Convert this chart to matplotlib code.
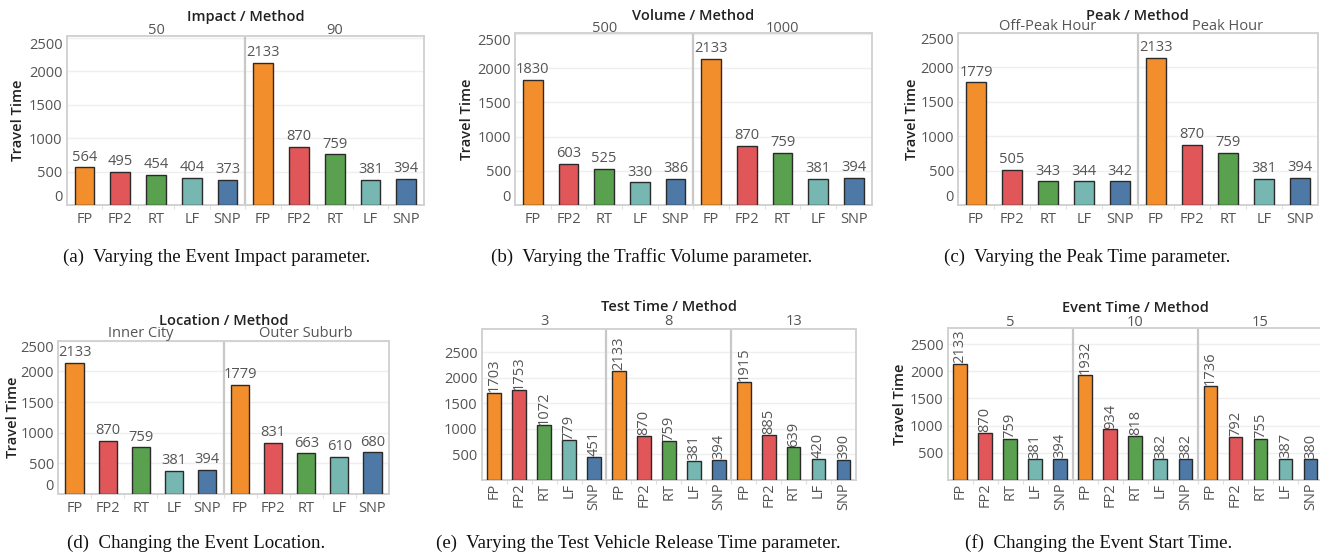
import matplotlib
matplotlib.use("Agg")
import matplotlib.pyplot as plt

W, H = 1320, 555
methods = ["FP", "FP2", "RT", "LF", "SNP"]
colors = ["#F28E2B", "#E15759", "#59A14F", "#76B7B2", "#4E79A7"]

a_facets = ["50", "90"]
a_vals = [[564, 495, 454, 404, 373], [2133, 870, 759, 381, 394]]
b_facets = ["500", "1000"]
b_vals = [[1830, 603, 525, 330, 386], [2133, 870, 759, 381, 394]]
c_facets = ["Off-Peak Hour", "Peak Hour"]
c_vals = [[1779, 505, 343, 344, 342], [2133, 870, 759, 381, 394]]
d_facets = ["Inner City", "Outer Suburb"]
d_vals = [[2133, 870, 759, 381, 394], [1779, 831, 663, 610, 680]]
e_facets = ["3", "8", "13"]
e_vals = [[1703, 1753, 1072, 779, 451], [2133, 870, 759, 381, 394], [1915, 885, 639, 420, 390]]
f_facets = ["5", "10", "15"]
f_vals = [[2133, 870, 759, 381, 394], [1932, 934, 818, 382, 382], [1736, 792, 755, 387, 380]]

titles = ["Impact / Method", "Volume / Method", "Peak / Method",
          "Location / Method", "Test Time / Method", "Event Time / Method"]
captions = ["(a)  Varying the Event Impact parameter.",
            "(b)  Varying the Traffic Volume parameter.",
            "(c)  Varying the Peak Time parameter.",
            "(d)  Changing the Event Location.",
            "(e)  Varying the Test Vehicle Release Time parameter.",
            "(f)  Changing the Event Start Time."]
y_ticks_full = [0, 500, 1000, 1500, 2000, 2500]
y_ticks_rot = [500, 1000, 1500, 2000, 2500]

SANS = "Open Sans"
SERIF = "Liberation Serif"
FS = 10.5
GRAY = "#555555"

fig = plt.figure(figsize=(W / 100, H / 100), dpi=100)


def px(x0, y0, x1, y1):
    return [x0 / W, 1 - y1 / H, (x1 - x0) / W, (y1 - y0) / H]


def chart(box, ymax, facets, vals, title, title_y, facet_y, ylabel_x, rotated,
          caption, cap_x, cap_y, zero_label):
    x0, y0, x1, y1 = box
    ax = fig.add_axes(px(x0, y0, x1, y1))
    n = len(facets)
    xs, hs, cs, labs = [], [], [], []
    for i, row in enumerate(vals):
        for j, v in enumerate(row):
            xs.append(i * 5 + j)
            hs.append(v)
            cs.append(colors[j])
            labs.append(methods[j])
    ax.bar(xs, hs, width=0.55, color=cs, edgecolor="#2a2a2a", linewidth=1.0, zorder=3)
    for x, v in zip(xs, hs):
        ax.annotate(str(v), (x, v), xytext=(0, 0.5 if rotated else 2),
                    textcoords="offset points",
                    ha="center", va="bottom", rotation=90 if rotated else 0,
                    fontsize=FS, color=GRAY, family=SANS)
    ax.set_xlim(-0.5, n * 5 - 0.5)
    ax.set_ylim(0, ymax)
    ticks = y_ticks_full if zero_label else y_ticks_rot
    ax.set_yticks(ticks)
    ax.set_yticklabels([str(t) for t in ticks], fontsize=FS, color=GRAY, family=SANS)
    if zero_label:
        lbls = ax.get_yticklabels()
        lbls[0].set_va("bottom")
        if ymax - 2500 < 60:
            lbls[-1].set_va("top")
    ax.tick_params(axis="y", length=0, pad=3)
    ax.set_xticks(xs)
    ax.set_xticklabels(labs, fontsize=FS, color=GRAY, family=SANS,
                       rotation=90 if rotated else 0)
    ax.tick_params(axis="x", length=0, pad=5 if not rotated else 2)
    ax.set_xticks([k + 0.5 for k in range(n * 5 - 1)], minor=True)
    ax.tick_params(axis="x", which="minor", length=3, color="#e0e0e0", width=0.8)
    for t in ticks:
        if t > 0:
            ax.axhline(t, color="#efefef", lw=1, zorder=1)
    for k in range(1, n):
        ax.axvline(k * 5 - 0.5, color="#c8c8c8", lw=1.6, zorder=2)
    for s in ax.spines.values():
        s.set_color("#d2d2d2")
        s.set_linewidth(1.4)
    cx = (x0 + x1) / 2
    fig.text(cx / W, 1 - title_y / H, title, ha="center", va="center",
             fontsize=FS, fontweight="semibold", family=SANS, color="#222222")
    fw = (x1 - x0) / n
    for i, f in enumerate(facets):
        fx = x0 + fw * (i + 0.5)
        fig.text(fx / W, 1 - facet_y / H, f, ha="center", va="center",
                 fontsize=FS, family=SANS, color=GRAY, zorder=0)
    if ylabel_x is not None:
        fig.text(ylabel_x / W, 1 - ((y0 + y1) / 2) / H, "Travel Time", rotation=90,
                 ha="center", va="center", fontsize=FS, fontweight="semibold",
                 family=SANS, color="#222222")
    fig.text(cap_x / W, 1 - cap_y / H, caption, ha="center", va="center",
             fontsize=13.6, family=SERIF, color="#111111")
    return ax


chart((66.7, 36, 424, 205), 2530, a_facets, a_vals, titles[0], 16.7, 30, 18.3,
      False, captions[0], 217, 257, True)
chart((515, 32.7, 871.7, 205), 2520, b_facets, b_vals, titles[1], 16, 28.3, 466.7,
      False, captions[1], 652, 257, True)
chart((958, 32.7, 1317.7, 205), 2500, c_facets, c_vals, titles[2], 16, 26.7, 911.7,
      False, captions[2], 1087, 257, True)
chart((58, 340.7, 389, 494), 2500, d_facets, d_vals, titles[3], 320.7, 333.3, 13.3,
      False, captions[3], 196, 543, True)
chart((481.7, 329.3, 856, 480), 2950, e_facets, e_vals, titles[4], 306.7, 321.7, None,
      True, captions[4], 638, 543, False)
chart((947.7, 328.3, 1323, 480), 2790, f_facets, f_vals, titles[5], 308.3, 322.3, 900,
      True, captions[5], 1099, 543, False)

fig.savefig("out.png", dpi=100)
